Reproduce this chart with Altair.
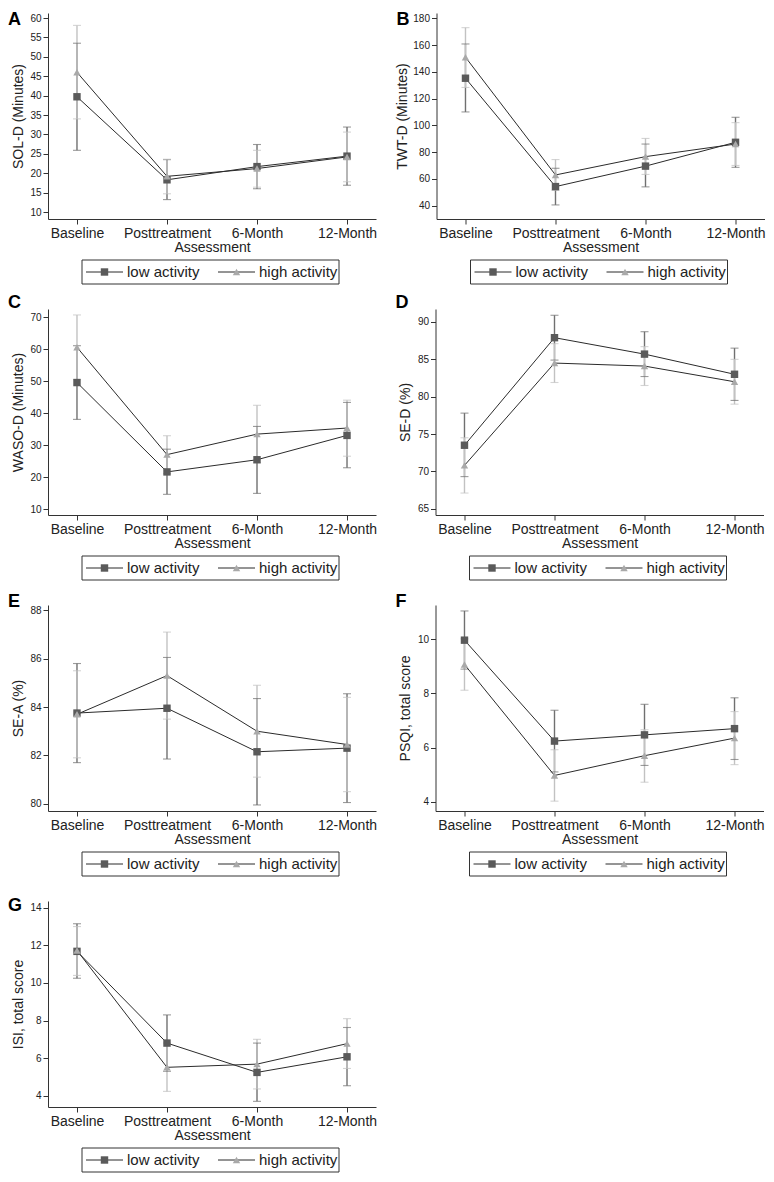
import altair as alt
import pandas as pd

categories = ["Baseline", "Posttreatment", "6-Month", "12-Month"]
groups = ["low activity", "high activity"]
x_title = "Assessment"

# Panel A: SOL-D
sol_title = "SOL-D (Minutes)"
sol_ticks = [10, 15, 20, 25, 30, 35, 40, 45, 50, 55, 60]
sol_low_mean = [39.7, 18.3, 21.7, 24.4]
sol_low_lo = [25.9, 13.2, 16.0, 16.9]
sol_low_hi = [53.5, 23.5, 27.4, 31.9]
sol_high_mean = [46.0, 19.2, 21.2, 24.2]
sol_high_lo = [34.0, 14.7, 16.4, 17.8]
sol_high_hi = [58.1, 23.6, 25.9, 30.6]

# Panel B: TWT-D
twt_title = "TWT-D (Minutes)"
twt_ticks = [40, 60, 80, 100, 120, 140, 160, 180]
twt_low_mean = [135.2, 54.2, 69.5, 87.3]
twt_low_lo = [110.0, 40.5, 54.0, 68.6]
twt_low_hi = [160.8, 67.9, 86.0, 106.0]
twt_high_mean = [150.9, 62.9, 76.6, 86.0]
twt_high_lo = [128.3, 51.4, 63.3, 70.0]
twt_high_hi = [173.0, 74.4, 90.2, 102.0]

# Panel C: WASO-D
waso_title = "WASO-D (Minutes)"
waso_ticks = [10, 20, 30, 40, 50, 60, 70]
waso_low_mean = [49.6, 21.7, 25.5, 33.1]
waso_low_lo = [38.1, 14.7, 15.0, 23.0]
waso_low_hi = [61.1, 28.8, 35.9, 43.4]
waso_high_mean = [60.6, 27.1, 33.5, 35.4]
waso_high_lo = [50.5, 21.2, 24.6, 26.6]
waso_high_hi = [70.7, 33.0, 42.5, 44.1]

# Panel D: SE-D
sed_title = "SE-D (%)"
sed_ticks = [65, 70, 75, 80, 85, 90]
sed_low_mean = [73.5, 87.9, 85.7, 83.0]
sed_low_lo = [69.3, 84.9, 82.7, 79.5]
sed_low_hi = [77.8, 90.9, 88.7, 86.5]
sed_high_mean = [70.8, 84.5, 84.1, 82.0]
sed_high_lo = [67.1, 81.9, 81.5, 79.0]
sed_high_hi = [74.5, 87.1, 86.7, 85.0]

# Panel E: SE-A
sea_title = "SE-A (%)"
sea_ticks = [80, 82, 84, 86, 88]
sea_low_mean = [83.75, 83.95, 82.15, 82.3]
sea_low_lo = [81.7, 81.85, 79.95, 80.05]
sea_low_hi = [85.8, 86.05, 84.35, 84.55]
sea_high_mean = [83.7, 85.3, 83.0, 82.45]
sea_high_lo = [81.9, 83.5, 81.1, 80.5]
sea_high_hi = [85.5, 87.1, 84.9, 84.4]

# Panel F: PSQI
psqi_title = "PSQI, total score"
psqi_ticks = [4, 6, 8, 10]
psqi_low_mean = [9.97, 6.24, 6.47, 6.7]
psqi_low_lo = [8.9, 5.1, 5.34, 5.56]
psqi_low_hi = [11.05, 7.38, 7.6, 7.84]
psqi_high_mean = [9.07, 4.97, 5.7, 6.35]
psqi_high_lo = [8.12, 4.02, 4.72, 5.37]
psqi_high_hi = [10.02, 5.92, 6.66, 7.33]

# Panel G: ISI
isi_title = "ISI, total score"
isi_ticks = [4, 6, 8, 10, 12, 14]
isi_low_mean = [11.68, 6.8, 5.24, 6.07]
isi_low_lo = [10.25, 5.3, 3.7, 4.53]
isi_low_hi = [13.15, 8.3, 6.8, 7.63]
isi_high_mean = [11.73, 5.51, 5.68, 6.77]
isi_high_lo = [10.4, 4.23, 4.36, 5.45]
isi_high_hi = [13.0, 6.8, 7.0, 8.1]

W = 328
H = 206

AXIS_COLOR = "#333333"
TEXT_COLOR = "#222222"
LINE_COLOR = "#2b2b2b"
BAR_COLORS = ["#707070", "#c2c2c2"]
MARK_COLORS = ["#5a5a5a", "#a9a9a9"]
SHAPES = ["square", "triangle-up"]


def make_panel(letter, ytitle, domain, ticks, lm, ll, lh, hm, hl, hh,
               letter_y, top_ext, title_x=-23):
    rows = []
    for gi, (m, lo, hi) in enumerate([(lm, ll, lh), (hm, hl, hh)]):
        for ci, c in enumerate(categories):
            rows.append(dict(assessment=c, idx=ci, group=groups[gi],
                             mean=m[ci], lo=lo[ci], hi=hi[ci]))
    df = pd.DataFrame(rows)

    xenc = alt.X(
        "assessment:N", sort=categories,
        scale=alt.Scale(type="point", domain=categories, padding=0.322),
        axis=alt.Axis(title=x_title, labelAngle=0, labelFontSize=14,
                      titleFontSize=14, titleFontWeight="normal", tickSize=5,
                      labelPadding=2, titlePadding=0),
    )
    yscale = alt.Scale(domain=domain, nice=False, zero=False)
    yaxis = alt.Axis(values=ticks, labelFontSize=10, titleFontSize=14,
                     titleFontWeight="normal", tickSize=5, labelPadding=2,
                     titleX=title_x)

    def Y(field):
        return alt.Y(f"{field}:Q", scale=yscale, axis=yaxis, title=ytitle)

    bar_color = alt.Color("group:N",
                          scale=alt.Scale(domain=groups, range=BAR_COLORS),
                          legend=None)
    base = alt.Chart(df)
    bars = base.mark_rule(strokeWidth=1.4).encode(
        x=xenc, y=Y("lo"), y2="hi:Q", color=bar_color)
    cap_lo = base.mark_tick(size=8, thickness=1.1, orient="horizontal").encode(
        x=xenc, y=Y("lo"), color=bar_color)
    cap_hi = base.mark_tick(size=8, thickness=1.1, orient="horizontal").encode(
        x=xenc, y=Y("hi"), color=bar_color)
    line = base.mark_line(color=LINE_COLOR, strokeWidth=1).encode(
        x=xenc, y=Y("mean"), detail="group:N", order="idx:Q")
    pts = base.mark_point(filled=True, opacity=1, size=55, strokeWidth=0).encode(
        x=xenc, y=Y("mean"),
        shape=alt.Shape("group:N", scale=alt.Scale(domain=groups, range=SHAPES),
                        legend=None),
        fill=alt.Fill("group:N", scale=alt.Scale(domain=groups, range=MARK_COLORS),
                      legend=None),
    )

    # legend box (drawn as guide marks below the plot)
    ldf = pd.DataFrame({"group": groups})
    lbase = alt.Chart(ldf)
    ly = 259
    box = lbase.transform_filter(alt.datum.group == groups[0]).mark_rect(
        fill="white", fillOpacity=0, stroke=AXIS_COLOR, strokeWidth=1).encode(
        x=alt.value(34), x2=alt.value(291), y=alt.value(247), y2=alt.value(271))
    legend_layers = [box]
    entry_x = [38, 170]
    for k, g in enumerate(groups):
        sub = lbase.transform_filter(alt.datum.group == g)
        x0 = entry_x[k]
        legend_layers.append(sub.mark_rule(color=LINE_COLOR, strokeWidth=1).encode(
            x=alt.value(x0), x2=alt.value(x0 + 37), y=alt.value(ly)))
        legend_layers.append(sub.mark_point(filled=True, opacity=1, size=55,
                                            strokeWidth=0, shape=SHAPES[k],
                                            fill=MARK_COLORS[k]).encode(
            x=alt.value(x0 + 18.5), y=alt.value(ly)))
        legend_layers.append(sub.mark_text(align="left", baseline="middle",
                                           fontSize=15, color=TEXT_COLOR).encode(
            x=alt.value(x0 + 41), y=alt.value(ly), text="group:N"))

    letter_mark = lbase.transform_filter(alt.datum.group == groups[0]).mark_text(
        align="left", baseline="alphabetic", fontSize=18, fontWeight="bold",
        color="#000000").encode(
        x=alt.value(-40), y=alt.value(letter_y), text=alt.value(letter))
    bound = lbase.transform_filter(alt.datum.group == groups[0]).mark_rule(
        strokeOpacity=0).encode(
        x=alt.value(-40), y=alt.value(-top_ext), y2=alt.value(0))

    return alt.layer(bars, cap_lo, cap_hi, line, pts, *legend_layers,
                     letter_mark, bound).properties(width=W, height=H)


pA = make_panel("A", sol_title, [8.2, 61.29], sol_ticks, sol_low_mean, sol_low_lo,
                sol_low_hi, sol_high_mean, sol_high_lo, sol_high_hi, 12, 5)
pB = make_panel("B", twt_title, [29.98, 183.95], twt_ticks, twt_low_mean, twt_low_lo,
                twt_low_hi, twt_high_mean, twt_high_lo, twt_high_hi, 12, 5,
                title_x=-27)
pC = make_panel("C", waso_title, [8.25, 72.56], waso_ticks, waso_low_mean, waso_low_lo,
                waso_low_hi, waso_high_mean, waso_high_lo, waso_high_hi, -1, 19)
pD = make_panel("D", sed_title, [64.16, 91.74], sed_ticks, sed_low_mean, sed_low_lo,
                sed_low_hi, sed_high_mean, sed_high_lo, sed_high_hi, -1, 19)
pE = make_panel("E", sea_title, [79.70, 88.22], sea_ticks, sea_low_mean, sea_low_lo,
                sea_low_hi, sea_high_mean, sea_high_lo, sea_high_hi, 2, 19)
pF = make_panel("F", psqi_title, [3.656, 11.27], psqi_ticks, psqi_low_mean, psqi_low_lo,
                psqi_low_hi, psqi_high_mean, psqi_high_lo, psqi_high_hi, 2, 19)
pG = make_panel("G", isi_title, [3.399, 14.36], isi_ticks, isi_low_mean, isi_low_lo,
                isi_low_hi, isi_high_mean, isi_high_lo, isi_high_hi, 10, 19)

row1 = alt.hconcat(pA, pB, spacing=18.5)
row2 = alt.hconcat(pC, pD, spacing=18.5)
row3 = alt.hconcat(pE, pF, spacing=18.5)
row4 = alt.hconcat(pG, spacing=18.5)

chart = alt.vconcat(row1, row2, row3, row4, spacing=5).properties(
    padding=0
).configure(
    font="Liberation Sans"
).configure_view(
    stroke=None
).configure_axis(
    grid=False, domainColor=AXIS_COLOR, tickColor=AXIS_COLOR,
    labelColor=TEXT_COLOR, titleColor=TEXT_COLOR, labelFont="Liberation Sans",
    titleFont="Liberation Sans"
)

chart.save("out.html", embed_options={"renderer": "svg", "actions": False})
